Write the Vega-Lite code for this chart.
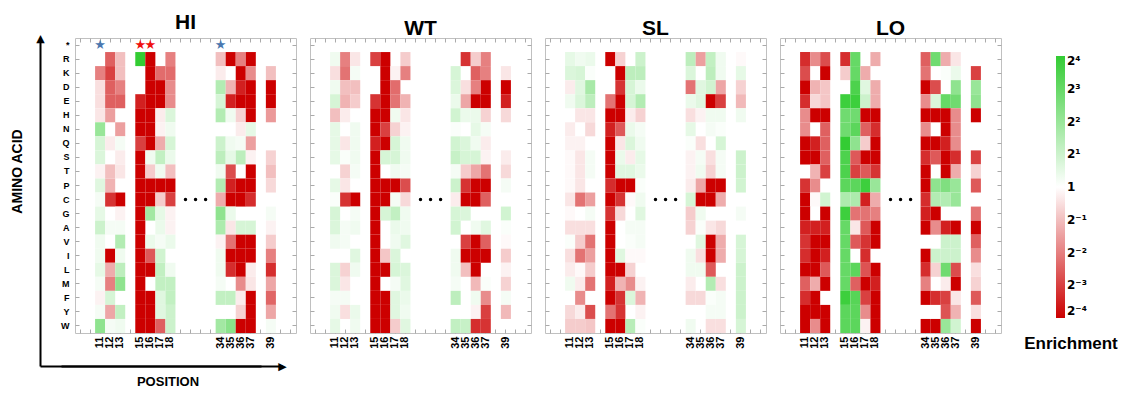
{
"$schema": "https://vega.github.io/schema/vega-lite/v6.json",
"background": "white",
"padding": {"left": 9, "top": 11, "right": 0, "bottom": 5},
"config": {
  "font": "Liberation Sans",
  "view": {"stroke": "#c0c0c0"},
  "axis": {"grid": false, "labelFont": "Liberation Sans", "titleFont": "Liberation Sans"},
  "title": {"fontSize": 21, "fontWeight": "bold", "offset": -1, "color": "black", "font": "Liberation Sans"},
  "legend": {"orient": "none", "legendX": 949, "legendY": 18, "direction": "vertical", "gradientLength": 262, "gradientThickness": 9, "labelFont": "DejaVu Sans", "labelFontSize": 12, "labelFontWeight": "bold", "labelColor": "black", "labelOffset": 8, "titleOrient": "bottom", "titleAnchor": "middle", "titleFontSize": 17, "titleFontWeight": "bold", "titleColor": "black", "titlePadding": 18, "padding": 0, "gradientStrokeWidth": 0}
},
"datasets": {
"dots": [{"r": "C", "c": "G1"}, {"r": "C", "c": "G2"}, {"r": "C", "c": "G3"}],
"blue": [{"r": "*", "c": "11"}, {"r": "*", "c": "34"}],
"red": [{"r": "*", "c": "15"}, {"r": "*", "c": "16"}],
"HI": [
{"r":"R","c":"12","v":-2.5},{"r":"R","c":"13","v":-1},{"r":"R","c":"15","v":4},{"r":"R","c":"16","v":-4},{"r":"R","c":"18","v":-2},{"r":"R","c":"34","v":-1},{"r":"R","c":"35","v":-4},{"r":"R","c":"36","v":-2},{"r":"R","c":"37","v":-4},
{"r":"K","c":"11","v":-2},{"r":"K","c":"12","v":-3},{"r":"K","c":"13","v":-1},{"r":"K","c":"16","v":-4},{"r":"K","c":"17","v":-2.3},{"r":"K","c":"18","v":-2.3},{"r":"K","c":"34","v":-0.3},{"r":"K","c":"36","v":-4},{"r":"K","c":"37","v":-1.8},{"r":"K","c":"39","v":-1},
{"r":"D","c":"11","v":-0.5},{"r":"D","c":"12","v":-2.5},{"r":"D","c":"13","v":-2},{"r":"D","c":"16","v":-4},{"r":"D","c":"17","v":-4},{"r":"D","c":"18","v":-1.8},{"r":"D","c":"34","v":1.5},{"r":"D","c":"35","v":-1.2},{"r":"D","c":"36","v":-3.5},{"r":"D","c":"37","v":-4},{"r":"D","c":"39","v":-4},
{"r":"E","c":"11","v":-0.5},{"r":"E","c":"12","v":-2.5},{"r":"E","c":"13","v":-2.5},{"r":"E","c":"15","v":-3.5},{"r":"E","c":"16","v":-4},{"r":"E","c":"17","v":-4},{"r":"E","c":"18","v":-1.8},{"r":"E","c":"34","v":0.8},{"r":"E","c":"35","v":-3.5},{"r":"E","c":"36","v":-4},{"r":"E","c":"37","v":-4},{"r":"E","c":"39","v":-4},
{"r":"H","c":"11","v":-0.4},{"r":"H","c":"12","v":-1.5},{"r":"H","c":"15","v":-4},{"r":"H","c":"16","v":-4},{"r":"H","c":"17","v":-0.3},{"r":"H","c":"18","v":0.7},{"r":"H","c":"34","v":1.5},{"r":"H","c":"35","v":0.3},{"r":"H","c":"36","v":-0.7},{"r":"H","c":"37","v":-4},{"r":"H","c":"39","v":-1.6},
{"r":"N","c":"11","v":2},{"r":"N","c":"13","v":-1.5},{"r":"N","c":"15","v":-4},{"r":"N","c":"16","v":-4},{"r":"N","c":"17","v":-0.2},{"r":"N","c":"18","v":0.3},{"r":"N","c":"36","v":-0.3},{"r":"N","c":"37","v":0.5},
{"r":"Q","c":"11","v":0.8},{"r":"Q","c":"12","v":-0.3},{"r":"Q","c":"13","v":0.2},{"r":"Q","c":"15","v":-3},{"r":"Q","c":"16","v":-4},{"r":"Q","c":"17","v":-1.3},{"r":"Q","c":"18","v":0.8},{"r":"Q","c":"34","v":1},{"r":"Q","c":"35","v":0.3},{"r":"Q","c":"36","v":0.2},{"r":"Q","c":"37","v":-1.5},
{"r":"S","c":"11","v":0.7},{"r":"S","c":"13","v":-0.3},{"r":"S","c":"15","v":-4},{"r":"S","c":"16","v":0.3},{"r":"S","c":"17","v":1.2},{"r":"S","c":"18","v":0.4},{"r":"S","c":"34","v":1.3},{"r":"S","c":"35","v":0.5},{"r":"S","c":"36","v":1.3},{"r":"S","c":"37","v":-0.2},{"r":"S","c":"39","v":-0.7},
{"r":"T","c":"11","v":-0.2},{"r":"T","c":"12","v":-1},{"r":"T","c":"13","v":-0.4},{"r":"T","c":"15","v":-4},{"r":"T","c":"16","v":-0.8},{"r":"T","c":"17","v":0.3},{"r":"T","c":"18","v":-1},{"r":"T","c":"34","v":0.3},{"r":"T","c":"35","v":-2.8},{"r":"T","c":"37","v":-4},{"r":"T","c":"39","v":-1},
{"r":"P","c":"11","v":0.6},{"r":"P","c":"12","v":-1.2},{"r":"P","c":"15","v":-4},{"r":"P","c":"16","v":-4},{"r":"P","c":"17","v":-4},{"r":"P","c":"18","v":-4},{"r":"P","c":"34","v":1.5},{"r":"P","c":"35","v":-3.5},{"r":"P","c":"36","v":-4},{"r":"P","c":"37","v":-4},{"r":"P","c":"39","v":-0.6},
{"r":"C","c":"11","v":0.2},{"r":"C","c":"12","v":-3.2},{"r":"C","c":"13","v":-4},{"r":"C","c":"15","v":-4},{"r":"C","c":"16","v":-4},{"r":"C","c":"17","v":-0.8},{"r":"C","c":"18","v":-3},{"r":"C","c":"34","v":-1.3},{"r":"C","c":"35","v":-4},{"r":"C","c":"36","v":-4},{"r":"C","c":"37","v":-3.3},
{"r":"G","c":"11","v":0.5},{"r":"G","c":"13","v":-0.2},{"r":"G","c":"15","v":-4},{"r":"G","c":"16","v":1.8},{"r":"G","c":"17","v":0.5},{"r":"G","c":"18","v":-0.2},{"r":"G","c":"34","v":2.2},{"r":"G","c":"35","v":0.4},{"r":"G","c":"39","v":0.2},
{"r":"A","c":"11","v":1},{"r":"A","c":"12","v":0.2},{"r":"A","c":"13","v":0.2},{"r":"A","c":"15","v":-4},{"r":"A","c":"17","v":0.4},{"r":"A","c":"18","v":-0.2},{"r":"A","c":"34","v":1.6},{"r":"A","c":"35","v":-0.4},{"r":"A","c":"36","v":0.8},{"r":"A","c":"37","v":0.8},{"r":"A","c":"39","v":-0.2},
{"r":"V","c":"11","v":0.3},{"r":"V","c":"13","v":1.5},{"r":"V","c":"15","v":-4},{"r":"V","c":"16","v":0.4},{"r":"V","c":"17","v":0.2},{"r":"V","c":"18","v":0.4},{"r":"V","c":"34","v":-0.2},{"r":"V","c":"35","v":-2.2},{"r":"V","c":"36","v":-4},{"r":"V","c":"37","v":-4},{"r":"V","c":"39","v":-0.8},
{"r":"I","c":"11","v":0.3},{"r":"I","c":"12","v":-4},{"r":"I","c":"13","v":0.3},{"r":"I","c":"15","v":-4},{"r":"I","c":"16","v":-2.6},{"r":"I","c":"17","v":0.9},{"r":"I","c":"34","v":0.3},{"r":"I","c":"35","v":-4},{"r":"I","c":"36","v":-4},{"r":"I","c":"37","v":-4},{"r":"I","c":"39","v":-2},
{"r":"L","c":"11","v":0.5},{"r":"L","c":"12","v":-1.3},{"r":"L","c":"13","v":1.3},{"r":"L","c":"15","v":-4},{"r":"L","c":"16","v":-4},{"r":"L","c":"17","v":1.2},{"r":"L","c":"18","v":0.3},{"r":"L","c":"34","v":0.3},{"r":"L","c":"35","v":-3.3},{"r":"L","c":"36","v":-4},{"r":"L","c":"37","v":-0.3},{"r":"L","c":"39","v":-3.3},
{"r":"M","c":"11","v":0.2},{"r":"M","c":"12","v":-2},{"r":"M","c":"13","v":2.2},{"r":"M","c":"15","v":-4},{"r":"M","c":"17","v":1.2},{"r":"M","c":"18","v":1.2},{"r":"M","c":"34","v":0.2},{"r":"M","c":"36","v":-1.8},{"r":"M","c":"37","v":-0.4},{"r":"M","c":"39","v":-1.4},
{"r":"F","c":"11","v":-0.2},{"r":"F","c":"12","v":0.8},{"r":"F","c":"15","v":-4},{"r":"F","c":"16","v":-4},{"r":"F","c":"17","v":0.6},{"r":"F","c":"18","v":1.2},{"r":"F","c":"34","v":1.2},{"r":"F","c":"35","v":1.2},{"r":"F","c":"36","v":-0.3},{"r":"F","c":"37","v":-4},{"r":"F","c":"39","v":-2.4},
{"r":"Y","c":"11","v":0.2},{"r":"Y","c":"12","v":-1.4},{"r":"Y","c":"13","v":1.2},{"r":"Y","c":"15","v":-4},{"r":"Y","c":"16","v":-4},{"r":"Y","c":"17","v":0.6},{"r":"Y","c":"18","v":1},{"r":"Y","c":"36","v":-0.7},{"r":"Y","c":"37","v":-4},{"r":"Y","c":"39","v":-1.4},
{"r":"W","c":"11","v":2.2},{"r":"W","c":"12","v":0.2},{"r":"W","c":"13","v":0.3},{"r":"W","c":"15","v":-4},{"r":"W","c":"16","v":-4},{"r":"W","c":"17","v":-2.5},{"r":"W","c":"18","v":1},{"r":"W","c":"34","v":1.8},{"r":"W","c":"35","v":2.3},{"r":"W","c":"36","v":-4},{"r":"W","c":"37","v":-4},{"r":"W","c":"39","v":0.2}
],
"WT": [
{"r":"R","c":"11","v":0.3},{"r":"R","c":"12","v":-2},{"r":"R","c":"13","v":-0.4},{"r":"R","c":"15","v":-3},{"r":"R","c":"16","v":-4},{"r":"R","c":"18","v":-0.8},{"r":"R","c":"35","v":-3.2},{"r":"R","c":"36","v":-0.8},{"r":"R","c":"37","v":-2},
{"r":"K","c":"11","v":-0.5},{"r":"K","c":"12","v":-2.2},{"r":"K","c":"13","v":0.2},{"r":"K","c":"16","v":-4},{"r":"K","c":"17","v":-0.2},{"r":"K","c":"18","v":-2},{"r":"K","c":"34","v":0.8},{"r":"K","c":"36","v":-2.5},{"r":"K","c":"37","v":-2},{"r":"K","c":"39","v":-0.4},
{"r":"D","c":"11","v":0.3},{"r":"D","c":"12","v":-1},{"r":"D","c":"13","v":-1},{"r":"D","c":"16","v":-4},{"r":"D","c":"17","v":-2.3},{"r":"D","c":"34","v":0.7},{"r":"D","c":"35","v":-0.5},{"r":"D","c":"36","v":-2},{"r":"D","c":"37","v":-4},{"r":"D","c":"39","v":-4},
{"r":"E","c":"11","v":0.8},{"r":"E","c":"12","v":-1.2},{"r":"E","c":"13","v":-0.8},{"r":"E","c":"15","v":-3.2},{"r":"E","c":"16","v":-4},{"r":"E","c":"17","v":-2.2},{"r":"E","c":"18","v":-1.2},{"r":"E","c":"34","v":0.4},{"r":"E","c":"35","v":-1.4},{"r":"E","c":"36","v":-4},{"r":"E","c":"37","v":-4},{"r":"E","c":"39","v":-3.5},
{"r":"H","c":"11","v":-1},{"r":"H","c":"12","v":-0.3},{"r":"H","c":"15","v":-4},{"r":"H","c":"16","v":-4},{"r":"H","c":"17","v":0.3},{"r":"H","c":"18","v":-0.4},{"r":"H","c":"34","v":0.9},{"r":"H","c":"35","v":0.4},{"r":"H","c":"36","v":0.4},{"r":"H","c":"37","v":-0.7},{"r":"H","c":"39","v":-0.6},
{"r":"N","c":"11","v":0.5},{"r":"N","c":"13","v":0.3},{"r":"N","c":"15","v":-4},{"r":"N","c":"16","v":-3},{"r":"N","c":"17","v":-0.7},{"r":"N","c":"18","v":-0.2},{"r":"N","c":"34","v":0.1},{"r":"N","c":"36","v":0.5},{"r":"N","c":"37","v":0.2},
{"r":"Q","c":"11","v":0.5},{"r":"Q","c":"12","v":-0.4},{"r":"Q","c":"13","v":0.3},{"r":"Q","c":"15","v":-3.5},{"r":"Q","c":"16","v":-4},{"r":"Q","c":"17","v":0.8},{"r":"Q","c":"18","v":0.3},{"r":"Q","c":"34","v":0.9},{"r":"Q","c":"35","v":0.7},{"r":"Q","c":"36","v":0.3},{"r":"Q","c":"37","v":-0.3},
{"r":"S","c":"11","v":0.5},{"r":"S","c":"12","v":0.1},{"r":"S","c":"13","v":0.3},{"r":"S","c":"15","v":-4},{"r":"S","c":"16","v":0.8},{"r":"S","c":"17","v":0.8},{"r":"S","c":"18","v":0.3},{"r":"S","c":"34","v":1.1},{"r":"S","c":"35","v":0.8},{"r":"S","c":"36","v":0.8},{"r":"S","c":"37","v":-0.2},{"r":"S","c":"39","v":-0.3},
{"r":"T","c":"12","v":-0.7},{"r":"T","c":"13","v":0.2},{"r":"T","c":"15","v":-4},{"r":"T","c":"17","v":0.3},{"r":"T","c":"18","v":0.2},{"r":"T","c":"34","v":0.2},{"r":"T","c":"35","v":-0.8},{"r":"T","c":"36","v":-1.4},{"r":"T","c":"37","v":-2.2},{"r":"T","c":"39","v":-0.6},
{"r":"P","c":"11","v":0.5},{"r":"P","c":"12","v":-0.4},{"r":"P","c":"15","v":-4},{"r":"P","c":"16","v":-4},{"r":"P","c":"17","v":-4},{"r":"P","c":"18","v":-2.8},{"r":"P","c":"34","v":1},{"r":"P","c":"35","v":-3.2},{"r":"P","c":"36","v":-4},{"r":"P","c":"37","v":-4},{"r":"P","c":"39","v":0.2},
{"r":"C","c":"11","v":0.1},{"r":"C","c":"12","v":-3.2},{"r":"C","c":"13","v":-4},{"r":"C","c":"15","v":-4},{"r":"C","c":"16","v":-4},{"r":"C","c":"17","v":0.2},{"r":"C","c":"18","v":-0.6},{"r":"C","c":"34","v":-0.3},{"r":"C","c":"35","v":-4},{"r":"C","c":"36","v":-4},{"r":"C","c":"37","v":-2.5},
{"r":"G","c":"11","v":0.8},{"r":"G","c":"13","v":0.2},{"r":"G","c":"15","v":-4},{"r":"G","c":"16","v":0.8},{"r":"G","c":"17","v":1.2},{"r":"G","c":"18","v":0.3},{"r":"G","c":"34","v":0.8},{"r":"G","c":"35","v":0.7},{"r":"G","c":"39","v":0.9},
{"r":"A","c":"11","v":0.7},{"r":"A","c":"12","v":0.2},{"r":"A","c":"13","v":0.3},{"r":"A","c":"15","v":-4},{"r":"A","c":"17","v":0.4},{"r":"A","c":"18","v":0.3},{"r":"A","c":"34","v":0.9},{"r":"A","c":"36","v":0.3},{"r":"A","c":"37","v":0.6},{"r":"A","c":"39","v":0.1},
{"r":"V","c":"11","v":0.3},{"r":"V","c":"12","v":0.2},{"r":"V","c":"15","v":-4},{"r":"V","c":"17","v":0.3},{"r":"V","c":"18","v":0.6},{"r":"V","c":"35","v":-3},{"r":"V","c":"36","v":-4},{"r":"V","c":"37","v":-2.5},{"r":"V","c":"39","v":-0.1},
{"r":"I","c":"13","v":0.6},{"r":"I","c":"15","v":-4},{"r":"I","c":"16","v":-0.9},{"r":"I","c":"17","v":0.7},{"r":"I","c":"34","v":0.3},{"r":"I","c":"35","v":-4},{"r":"I","c":"36","v":-4},{"r":"I","c":"37","v":-4},{"r":"I","c":"39","v":-0.8},
{"r":"L","c":"11","v":0.7},{"r":"L","c":"12","v":-0.7},{"r":"L","c":"13","v":0.3},{"r":"L","c":"15","v":-4},{"r":"L","c":"16","v":-4},{"r":"L","c":"17","v":0.8},{"r":"L","c":"18","v":0.7},{"r":"L","c":"34","v":0.3},{"r":"L","c":"35","v":-1},{"r":"L","c":"36","v":-4},{"r":"L","c":"39","v":-0.2},
{"r":"M","c":"11","v":0.7},{"r":"M","c":"12","v":-0.4},{"r":"M","c":"15","v":-4},{"r":"M","c":"17","v":0.2},{"r":"M","c":"18","v":0.6},{"r":"M","c":"34","v":0.2},{"r":"M","c":"36","v":-1.1},{"r":"M","c":"37","v":0.1},{"r":"M","c":"39","v":-0.7},
{"r":"F","c":"11","v":0.2},{"r":"F","c":"12","v":0.2},{"r":"F","c":"15","v":-4},{"r":"F","c":"16","v":-4},{"r":"F","c":"17","v":0.6},{"r":"F","c":"18","v":0.4},{"r":"F","c":"34","v":1.3},{"r":"F","c":"36","v":0.3},{"r":"F","c":"37","v":-1.8},{"r":"F","c":"39","v":0.2},
{"r":"Y","c":"11","v":0.3},{"r":"Y","c":"12","v":-0.5},{"r":"Y","c":"13","v":0.4},{"r":"Y","c":"15","v":-4},{"r":"Y","c":"16","v":-4},{"r":"Y","c":"17","v":0.6},{"r":"Y","c":"18","v":0.3},{"r":"Y","c":"36","v":-0.2},{"r":"Y","c":"37","v":-3},{"r":"Y","c":"39","v":-1.1},
{"r":"W","c":"11","v":0.5},{"r":"W","c":"13","v":0.3},{"r":"W","c":"15","v":-4},{"r":"W","c":"16","v":-4},{"r":"W","c":"17","v":-0.8},{"r":"W","c":"18","v":0.6},{"r":"W","c":"34","v":1.2},{"r":"W","c":"35","v":1.1},{"r":"W","c":"36","v":-3.3},{"r":"W","c":"37","v":-3.2}
],
"SL": [
{"r":"R","c":"11","v":0.5},{"r":"R","c":"12","v":0.3},{"r":"R","c":"13","v":0.4},{"r":"R","c":"15","v":-4},{"r":"R","c":"16","v":-0.7},{"r":"R","c":"18","v":1},{"r":"R","c":"34","v":1.3},{"r":"R","c":"35","v":-1.5},{"r":"R","c":"36","v":1.2},{"r":"R","c":"37","v":0.3},{"r":"R","c":"39","v":-0.1},
{"r":"K","c":"11","v":0.7},{"r":"K","c":"12","v":0.8},{"r":"K","c":"13","v":0.1},{"r":"K","c":"16","v":-4},{"r":"K","c":"17","v":1.3},{"r":"K","c":"18","v":1.3},{"r":"K","c":"34","v":0.7},{"r":"K","c":"36","v":1.3},{"r":"K","c":"37","v":0.3},{"r":"K","c":"39","v":0.5},
{"r":"D","c":"11","v":-0.3},{"r":"D","c":"12","v":0.6},{"r":"D","c":"13","v":1.7},{"r":"D","c":"16","v":-3.2},{"r":"D","c":"17","v":0.8},{"r":"D","c":"18","v":0.4},{"r":"D","c":"34","v":-2.2},{"r":"D","c":"35","v":0.6},{"r":"D","c":"36","v":0.9},{"r":"D","c":"37","v":-1.4},{"r":"D","c":"39","v":-0.7},
{"r":"E","c":"11","v":0.3},{"r":"E","c":"12","v":0.7},{"r":"E","c":"13","v":1.3},{"r":"E","c":"15","v":-2.2},{"r":"E","c":"16","v":-4},{"r":"E","c":"17","v":0.8},{"r":"E","c":"18","v":1.5},{"r":"E","c":"34","v":0.4},{"r":"E","c":"35","v":0.6},{"r":"E","c":"36","v":-4},{"r":"E","c":"37","v":-3},{"r":"E","c":"39","v":-1.1},
{"r":"H","c":"12","v":-0.4},{"r":"H","c":"13","v":-0.4},{"r":"H","c":"15","v":-4},{"r":"H","c":"16","v":-4},{"r":"H","c":"17","v":-0.3},{"r":"H","c":"18","v":-0.7},{"r":"H","c":"34","v":-0.5},{"r":"H","c":"35","v":-0.2},{"r":"H","c":"36","v":0.3},{"r":"H","c":"37","v":0.3},{"r":"H","c":"39","v":0.3},
{"r":"N","c":"11","v":-0.3},{"r":"N","c":"13","v":-0.6},{"r":"N","c":"15","v":-3.5},{"r":"N","c":"16","v":-2.6},{"r":"N","c":"17","v":0.4},{"r":"N","c":"18","v":0.2},{"r":"N","c":"34","v":0.5},{"r":"N","c":"36","v":0.2},{"r":"N","c":"37","v":0.1},
{"r":"Q","c":"11","v":-0.2},{"r":"Q","c":"12","v":-0.2},{"r":"Q","c":"15","v":-4},{"r":"Q","c":"16","v":-0.4},{"r":"Q","c":"17","v":0.7},{"r":"Q","c":"18","v":0.3},{"r":"Q","c":"34","v":0.1},{"r":"Q","c":"35","v":-0.5},{"r":"Q","c":"37","v":0.8},
{"r":"S","c":"11","v":-0.1},{"r":"S","c":"12","v":-0.4},{"r":"S","c":"13","v":0.2},{"r":"S","c":"15","v":-4},{"r":"S","c":"16","v":0.4},{"r":"S","c":"17","v":-0.3},{"r":"S","c":"18","v":0.5},{"r":"S","c":"34","v":-0.2},{"r":"S","c":"35","v":0.2},{"r":"S","c":"36","v":-0.5},{"r":"S","c":"37","v":0.2},{"r":"S","c":"39","v":1},
{"r":"T","c":"11","v":-0.1},{"r":"T","c":"12","v":-0.4},{"r":"T","c":"13","v":0.2},{"r":"T","c":"15","v":-4},{"r":"T","c":"16","v":0.6},{"r":"T","c":"17","v":0.6},{"r":"T","c":"18","v":0.4},{"r":"T","c":"34","v":-0.2},{"r":"T","c":"35","v":0.3},{"r":"T","c":"36","v":-0.7},{"r":"T","c":"37","v":0.2},{"r":"T","c":"39","v":1},
{"r":"P","c":"11","v":-0.1},{"r":"P","c":"12","v":-0.4},{"r":"P","c":"15","v":-3.3},{"r":"P","c":"16","v":-4},{"r":"P","c":"17","v":-4},{"r":"P","c":"18","v":0.1},{"r":"P","c":"34","v":-0.3},{"r":"P","c":"35","v":-1.4},{"r":"P","c":"36","v":-4},{"r":"P","c":"37","v":-4},{"r":"P","c":"39","v":0.9},
{"r":"C","c":"11","v":-0.4},{"r":"C","c":"12","v":-2.2},{"r":"C","c":"13","v":-1.5},{"r":"C","c":"15","v":-4},{"r":"C","c":"16","v":-3.2},{"r":"C","c":"17","v":-0.1},{"r":"C","c":"18","v":0.3},{"r":"C","c":"34","v":0.8},{"r":"C","c":"35","v":-4},{"r":"C","c":"36","v":-4},{"r":"C","c":"37","v":-1.3},
{"r":"G","c":"11","v":-0.1},{"r":"G","c":"13","v":0.2},{"r":"G","c":"15","v":-3.2},{"r":"G","c":"16","v":-0.6},{"r":"G","c":"18","v":0.6},{"r":"G","c":"34","v":-0.8},{"r":"G","c":"35","v":0.3},{"r":"G","c":"39","v":0.2},
{"r":"A","c":"11","v":-0.5},{"r":"A","c":"12","v":-0.5},{"r":"A","c":"13","v":-0.5},{"r":"A","c":"15","v":-4},{"r":"A","c":"17","v":0.2},{"r":"A","c":"18","v":0.2},{"r":"A","c":"34","v":-0.7},{"r":"A","c":"35","v":0.1},{"r":"A","c":"36","v":-0.4},{"r":"A","c":"37","v":-0.6},
{"r":"V","c":"11","v":0.1},{"r":"V","c":"12","v":-0.8},{"r":"V","c":"13","v":-2.2},{"r":"V","c":"15","v":-4},{"r":"V","c":"17","v":0.1},{"r":"V","c":"18","v":0.2},{"r":"V","c":"35","v":0.6},{"r":"V","c":"36","v":-4},{"r":"V","c":"37","v":-1.3},{"r":"V","c":"39","v":0.8},
{"r":"I","c":"11","v":-0.5},{"r":"I","c":"12","v":-2.2},{"r":"I","c":"13","v":-1.5},{"r":"I","c":"15","v":-4},{"r":"I","c":"16","v":0.6},{"r":"I","c":"17","v":-0.1},{"r":"I","c":"18","v":-0.1},{"r":"I","c":"34","v":0.3},{"r":"I","c":"35","v":-0.5},{"r":"I","c":"36","v":-4},{"r":"I","c":"37","v":-1.3},{"r":"I","c":"39","v":0.8},
{"r":"L","c":"11","v":-0.3},{"r":"L","c":"12","v":-0.1},{"r":"L","c":"13","v":-0.8},{"r":"L","c":"15","v":-4},{"r":"L","c":"16","v":-4},{"r":"L","c":"17","v":-0.7},{"r":"L","c":"34","v":0.3},{"r":"L","c":"35","v":0.3},{"r":"L","c":"36","v":-2.6},{"r":"L","c":"39","v":1},
{"r":"M","c":"11","v":0.3},{"r":"M","c":"12","v":-0.3},{"r":"M","c":"13","v":-2.2},{"r":"M","c":"15","v":-3.5},{"r":"M","c":"16","v":-1.2},{"r":"M","c":"17","v":-1.8},{"r":"M","c":"18","v":-0.2},{"r":"M","c":"34","v":-0.3},{"r":"M","c":"36","v":1.5},{"r":"M","c":"37","v":-0.5},{"r":"M","c":"39","v":1},
{"r":"F","c":"12","v":-1.8},{"r":"F","c":"15","v":-4},{"r":"F","c":"16","v":-3.2},{"r":"F","c":"17","v":0.7},{"r":"F","c":"18","v":-1.2},{"r":"F","c":"34","v":-0.6},{"r":"F","c":"35","v":-0.6},{"r":"F","c":"36","v":0.1},{"r":"F","c":"37","v":0.2},{"r":"F","c":"39","v":1},
{"r":"Y","c":"11","v":-0.6},{"r":"Y","c":"12","v":-0.3},{"r":"Y","c":"13","v":-2.8},{"r":"Y","c":"15","v":-2.2},{"r":"Y","c":"16","v":-3.2},{"r":"Y","c":"18","v":-0.2},{"r":"Y","c":"36","v":0.2},{"r":"Y","c":"37","v":0.2},{"r":"Y","c":"39","v":1},
{"r":"W","c":"11","v":-0.8},{"r":"W","c":"12","v":-0.8},{"r":"W","c":"13","v":-0.9},{"r":"W","c":"15","v":-4},{"r":"W","c":"16","v":-4},{"r":"W","c":"17","v":1.4},{"r":"W","c":"18","v":0.1},{"r":"W","c":"34","v":0.3},{"r":"W","c":"36","v":-0.5},{"r":"W","c":"37","v":-0.5},{"r":"W","c":"39","v":0.8}
],
"LO": [
{"r":"R","c":"11","v":-3.3},{"r":"R","c":"12","v":-1.8},{"r":"R","c":"13","v":-2.8},{"r":"R","c":"15","v":-3.3},{"r":"R","c":"16","v":3},{"r":"R","c":"18","v":-1.3},{"r":"R","c":"34","v":-2.5},{"r":"R","c":"35","v":2.8},{"r":"R","c":"36","v":-1.3},{"r":"R","c":"37","v":-0.4},
{"r":"K","c":"11","v":-2.8},{"r":"K","c":"13","v":-4},{"r":"K","c":"15","v":-0.8},{"r":"K","c":"16","v":3},{"r":"K","c":"17","v":-1.3},{"r":"K","c":"34","v":-2.2},{"r":"K","c":"36","v":0.1},{"r":"K","c":"37","v":0.4},{"r":"K","c":"39","v":-3},
{"r":"D","c":"11","v":-4},{"r":"D","c":"12","v":-1.2},{"r":"D","c":"13","v":-0.9},{"r":"D","c":"16","v":3.5},{"r":"D","c":"17","v":0.6},{"r":"D","c":"18","v":-1.3},{"r":"D","c":"34","v":-4},{"r":"D","c":"35","v":-2.8},{"r":"D","c":"37","v":2.2},{"r":"D","c":"39","v":2},
{"r":"E","c":"11","v":-3.3},{"r":"E","c":"12","v":-0.6},{"r":"E","c":"13","v":-0.9},{"r":"E","c":"15","v":3.8},{"r":"E","c":"16","v":3.8},{"r":"E","c":"17","v":1},{"r":"E","c":"18","v":-1.3},{"r":"E","c":"34","v":-1.8},{"r":"E","c":"35","v":0.7},{"r":"E","c":"36","v":3},{"r":"E","c":"37","v":2.8},{"r":"E","c":"39","v":2.2},
{"r":"H","c":"11","v":-1.8},{"r":"H","c":"12","v":-4},{"r":"H","c":"13","v":-4},{"r":"H","c":"15","v":2.8},{"r":"H","c":"16","v":2.8},{"r":"H","c":"17","v":-4},{"r":"H","c":"18","v":-4},{"r":"H","c":"34","v":-4},{"r":"H","c":"35","v":-4},{"r":"H","c":"36","v":-4},{"r":"H","c":"37","v":-1.8},{"r":"H","c":"39","v":-4},
{"r":"N","c":"11","v":-1.8},{"r":"N","c":"13","v":-2.5},{"r":"N","c":"15","v":2.8},{"r":"N","c":"16","v":3.2},{"r":"N","c":"17","v":-2.5},{"r":"N","c":"18","v":-3.3},{"r":"N","c":"34","v":-1.8},{"r":"N","c":"36","v":-4},{"r":"N","c":"37","v":-1.8},
{"r":"Q","c":"11","v":-4},{"r":"Q","c":"12","v":-3.5},{"r":"Q","c":"13","v":-2.5},{"r":"Q","c":"15","v":4},{"r":"Q","c":"16","v":2.2},{"r":"Q","c":"17","v":-0.8},{"r":"Q","c":"18","v":-4},{"r":"Q","c":"34","v":-4},{"r":"Q","c":"35","v":-4},{"r":"Q","c":"36","v":-3.5},{"r":"Q","c":"37","v":-1.8},
{"r":"S","c":"11","v":-4},{"r":"S","c":"12","v":-4},{"r":"S","c":"13","v":-2.5},{"r":"S","c":"15","v":3.5},{"r":"S","c":"16","v":-2.6},{"r":"S","c":"17","v":-4},{"r":"S","c":"18","v":-4},{"r":"S","c":"34","v":-3.3},{"r":"S","c":"35","v":-2.6},{"r":"S","c":"36","v":-4},{"r":"S","c":"37","v":-3.3},{"r":"S","c":"39","v":-3},
{"r":"T","c":"12","v":-1.2},{"r":"T","c":"13","v":-3},{"r":"T","c":"15","v":3.5},{"r":"T","c":"16","v":-3},{"r":"T","c":"17","v":-2.6},{"r":"T","c":"18","v":-3.2},{"r":"T","c":"34","v":-4},{"r":"T","c":"36","v":-4},{"r":"T","c":"37","v":-1.3},{"r":"T","c":"39","v":-0.7},
{"r":"P","c":"11","v":-3.2},{"r":"P","c":"12","v":-1.8},{"r":"P","c":"15","v":3.2},{"r":"P","c":"16","v":3.2},{"r":"P","c":"17","v":3.8},{"r":"P","c":"18","v":2},{"r":"P","c":"34","v":-4},{"r":"P","c":"35","v":2.2},{"r":"P","c":"36","v":2.5},{"r":"P","c":"37","v":2},{"r":"P","c":"39","v":-2.6},
{"r":"C","c":"11","v":-4},{"r":"C","c":"12","v":-0.1},{"r":"C","c":"13","v":0.9},{"r":"C","c":"15","v":1.6},{"r":"C","c":"16","v":1.6},{"r":"C","c":"17","v":-3.5},{"r":"C","c":"18","v":-1.3},{"r":"C","c":"34","v":-3.3},{"r":"C","c":"35","v":1.5},{"r":"C","c":"36","v":1.5},{"r":"C","c":"37","v":2},
{"r":"G","c":"11","v":-4},{"r":"G","c":"13","v":-4},{"r":"G","c":"15","v":3.8},{"r":"G","c":"16","v":-2.2},{"r":"G","c":"17","v":-2.2},{"r":"G","c":"18","v":-2},{"r":"G","c":"34","v":-3.5},{"r":"G","c":"35","v":-4},{"r":"G","c":"39","v":-2.2},
{"r":"A","c":"11","v":-3.5},{"r":"A","c":"12","v":-3.5},{"r":"A","c":"13","v":-3.5},{"r":"A","c":"15","v":3},{"r":"A","c":"16","v":-0.4},{"r":"A","c":"17","v":-2.6},{"r":"A","c":"18","v":-4},{"r":"A","c":"34","v":-4},{"r":"A","c":"35","v":-1.8},{"r":"A","c":"36","v":-3.5},{"r":"A","c":"37","v":-4},{"r":"A","c":"39","v":-4},
{"r":"V","c":"11","v":-3.2},{"r":"V","c":"12","v":-4},{"r":"V","c":"13","v":-4},{"r":"V","c":"15","v":3},{"r":"V","c":"16","v":-2.6},{"r":"V","c":"17","v":-3.2},{"r":"V","c":"18","v":-4},{"r":"V","c":"36","v":1},{"r":"V","c":"37","v":1},{"r":"V","c":"39","v":-2.5},
{"r":"I","c":"11","v":-3.3},{"r":"I","c":"12","v":-4},{"r":"I","c":"13","v":-3.5},{"r":"I","c":"15","v":3},{"r":"I","c":"17","v":-3.3},{"r":"I","c":"34","v":-4},{"r":"I","c":"35","v":1},{"r":"I","c":"36","v":1},{"r":"I","c":"37","v":1},{"r":"I","c":"39","v":-1.8},
{"r":"L","c":"11","v":-4},{"r":"L","c":"12","v":-4},{"r":"L","c":"13","v":-2.6},{"r":"L","c":"15","v":3},{"r":"L","c":"16","v":3.2},{"r":"L","c":"17","v":-2.7},{"r":"L","c":"18","v":-4},{"r":"L","c":"34","v":-3.3},{"r":"L","c":"35","v":-0.7},{"r":"L","c":"36","v":2.8},{"r":"L","c":"37","v":-2.8},{"r":"L","c":"39","v":-0.5},
{"r":"M","c":"11","v":-2.5},{"r":"M","c":"12","v":-1.3},{"r":"M","c":"13","v":-4},{"r":"M","c":"15","v":3},{"r":"M","c":"16","v":-2.5},{"r":"M","c":"17","v":-4},{"r":"M","c":"18","v":-3.5},{"r":"M","c":"34","v":-2},{"r":"M","c":"36","v":-0.3},{"r":"M","c":"37","v":-4},{"r":"M","c":"39","v":-0.7},
{"r":"F","c":"11","v":-3.3},{"r":"F","c":"12","v":-4},{"r":"F","c":"15","v":3.8},{"r":"F","c":"16","v":3.3},{"r":"F","c":"17","v":-3},{"r":"F","c":"18","v":-4},{"r":"F","c":"34","v":-4},{"r":"F","c":"35","v":-3.3},{"r":"F","c":"36","v":-3},{"r":"F","c":"37","v":-0.4},{"r":"F","c":"39","v":-2.6},
{"r":"Y","c":"11","v":-4},{"r":"Y","c":"12","v":-4},{"r":"Y","c":"13","v":-4},{"r":"Y","c":"15","v":3.2},{"r":"Y","c":"16","v":3.2},{"r":"Y","c":"17","v":-1.8},{"r":"Y","c":"18","v":-4},{"r":"Y","c":"36","v":-2.7},{"r":"Y","c":"37","v":-1.2},{"r":"Y","c":"39","v":-0.5},
{"r":"W","c":"11","v":-4},{"r":"W","c":"12","v":-1.8},{"r":"W","c":"13","v":-4},{"r":"W","c":"15","v":3.2},{"r":"W","c":"16","v":3.2},{"r":"W","c":"17","v":-0.2},{"r":"W","c":"18","v":-4},{"r":"W","c":"34","v":-4},{"r":"W","c":"35","v":-4},{"r":"W","c":"36","v":2},{"r":"W","c":"37","v":0.9},{"r":"W","c":"39","v":-4}
]
},
"spacing": 11,
"hconcat": [
{
 "title": "HI", "width": 221, "height": 295,
 "resolve": {"scale": {"x": "independent", "y": "independent"}, "axis": {"x": "independent", "y": "independent"}},
 "layer": [
  {"data": {"name": "HI"}, "mark": {"type": "rect"}, "encoding": {
    "x": {"field": "c", "type": "nominal", "scale": {"type": "band", "domain": ["L1","L2","11","12","13","14","15","16","17","18","G1","G2","G3","G4","34","35","36","37","38","39","R1","R2"], "paddingInner": 0, "paddingOuter": 0}, "axis": {"orient": "bottom", "domain": false, "ticks": false, "labelAngle": -90, "labelFontSize": 11, "labelFontWeight": "bold", "labelColor": "black", "labelPadding": 3, "title": null, "labelExpr": "(isNaN(toNumber(datum.value)) || datum.value == '14' || datum.value == '38') ? '' : datum.value"}},
    "y": {"field": "r", "type": "nominal", "scale": {"type": "band", "domain": ["*","R","K","D","E","H","N","Q","S","T","P","C","G","A","V","I","L","M","F","Y","W"], "paddingInner": 0, "paddingOuter": 0}, "axis": {"orient": "left", "domain": false, "ticks": false, "labelFontSize": 9, "labelFontWeight": "bold", "labelColor": "black", "labelPadding": 6, "title": null}},
    "color": {"field": "v", "type": "quantitative", "scale": {"domain": [-4, 0, 4], "range": ["#cc0000", "#ffffff", "#33cc33"], "interpolate": "rgb"}, "legend": {"title": "Enrichment", "values": [-4, -3, -2, -1, 0, 1, 2, 3, 4], "labelExpr": "datum.value == 0 ? '1' : datum.value == 1 ? '2¹' : datum.value == 2 ? '2²' : datum.value == 3 ? '2³' : datum.value == 4 ? '2⁴' : datum.value == -1 ? '2⁻¹' : datum.value == -2 ? '2⁻²' : datum.value == -3 ? '2⁻³' : '2⁻⁴'"}}
  }},
  {"data": {"name": "dots"}, "mark": {"type": "circle", "opacity": 0}, "encoding": {
    "x": {"field": "c", "type": "nominal", "scale": {"type": "band", "domain": ["L1","L2","11","12","13","14","15","16","17","18","G1","G2","G3","G4","34","35","36","37","38","39","R1","R2"], "paddingInner": 0, "paddingOuter": 0}, "axis": {"orient": "bottom", "domain": false, "labels": false, "tickSize": -4, "tickColor": "#aaaaaa", "title": null}},
    "y": {"field": "r", "type": "nominal", "scale": {"type": "band", "domain": ["*","R","K","D","E","H","N","Q","S","T","P","C","G","A","V","I","L","M","F","Y","W"], "paddingInner": 0, "paddingOuter": 0}, "axis": {"orient": "left", "domain": false, "labels": false, "tickSize": -4, "tickColor": "#aaaaaa", "title": null}}
  }},
  {"data": {"name": "dots"}, "mark": {"type": "circle", "opacity": 0}, "encoding": {
    "x": {"field": "c", "type": "nominal", "scale": {"type": "band", "domain": ["L1","L2","11","12","13","14","15","16","17","18","G1","G2","G3","G4","34","35","36","37","38","39","R1","R2"], "paddingInner": 0, "paddingOuter": 0}, "axis": {"orient": "top", "domain": false, "labels": false, "tickSize": -4, "tickColor": "#aaaaaa", "title": null}},
    "y": {"field": "r", "type": "nominal", "scale": {"type": "band", "domain": ["*","R","K","D","E","H","N","Q","S","T","P","C","G","A","V","I","L","M","F","Y","W"], "paddingInner": 0, "paddingOuter": 0}, "axis": {"orient": "right", "domain": false, "labels": false, "tickSize": -4, "tickColor": "#aaaaaa", "title": null}}
  }},
  {"data": {"name": "dots"}, "mark": {"type": "circle", "color": "black", "opacity": 1, "size": 12}, "encoding": {
    "x": {"field": "c", "type": "nominal", "bandPosition": 1, "scale": {"type": "band", "domain": ["L1","L2","11","12","13","14","15","16","17","18","G1","G2","G3","G4","34","35","36","37","38","39","R1","R2"], "paddingInner": 0, "paddingOuter": 0}, "axis": null},
    "y": {"field": "r", "type": "nominal", "scale": {"type": "band", "domain": ["*","R","K","D","E","H","N","Q","S","T","P","C","G","A","V","I","L","M","F","Y","W"], "paddingInner": 0, "paddingOuter": 0}, "axis": null}
  }},
  {"data": {"name": "blue"}, "mark": {"type": "text", "text": "★", "font": "DejaVu Sans", "fontSize": 13, "color": "#4a78b0", "baseline": "middle", "align": "center"}, "encoding": {
    "x": {"field": "c", "type": "nominal", "scale": {"type": "band", "domain": ["L1","L2","11","12","13","14","15","16","17","18","G1","G2","G3","G4","34","35","36","37","38","39","R1","R2"], "paddingInner": 0, "paddingOuter": 0}, "axis": null},
    "y": {"field": "r", "type": "nominal", "scale": {"type": "band", "domain": ["*","R","K","D","E","H","N","Q","S","T","P","C","G","A","V","I","L","M","F","Y","W"], "paddingInner": 0, "paddingOuter": 0}, "axis": null}
  }},
  {"data": {"name": "red"}, "mark": {"type": "text", "text": "★", "font": "DejaVu Sans", "fontSize": 13, "color": "#f01010", "baseline": "middle", "align": "center"}, "encoding": {
    "x": {"field": "c", "type": "nominal", "scale": {"type": "band", "domain": ["L1","L2","11","12","13","14","15","16","17","18","G1","G2","G3","G4","34","35","36","37","38","39","R1","R2"], "paddingInner": 0, "paddingOuter": 0}, "axis": null},
    "y": {"field": "r", "type": "nominal", "scale": {"type": "band", "domain": ["*","R","K","D","E","H","N","Q","S","T","P","C","G","A","V","I","L","M","F","Y","W"], "paddingInner": 0, "paddingOuter": 0}, "axis": null}
  }},
  {"data": {"values": []}, "mark": {"type": "point", "opacity": 0}, "encoding": {
    "x": {"field": "a", "type": "quantitative", "scale": {"domain": [0, 1], "range": [-35, 186], "nice": false, "zero": false}, "axis": {"orient": "bottom", "offset": 33, "domain": true, "domainColor": "black", "domainWidth": 2, "ticks": false, "labels": false, "grid": false, "title": null}},
    "y": {"field": "b", "type": "quantitative", "scale": {"domain": [0, 1], "range": [328, 0], "nice": false, "zero": false}, "axis": {"orient": "left", "offset": 35, "domain": true, "domainColor": "black", "domainWidth": 2, "ticks": false, "labels": false, "grid": false, "title": "AMINO ACID", "titleFontSize": 14, "titleFontWeight": "bold", "titleColor": "black", "titlePadding": 16, "titleY": 133}}
  }},
  {"data": {"values": []}, "mark": {"type": "point", "opacity": 0}, "encoding": {
    "x": {"field": "a", "type": "quantitative", "scale": {"domain": [0, 1], "range": [-14, 207], "nice": false, "zero": false}, "axis": {"orient": "bottom", "offset": 33, "domain": true, "domainColor": "black", "domainWidth": 2, "ticks": false, "labels": false, "grid": false, "title": "▶", "titleFont": "DejaVu Sans", "titleAnchor": "end", "titleAlign": "center", "titleBaseline": "middle", "titlePadding": 0, "titleFontSize": 11, "titleColor": "black"}},
    "y": {"field": "b", "type": "quantitative", "scale": {"domain": [0, 1], "range": [328, 0], "nice": false, "zero": false}, "axis": {"orient": "left", "offset": 35, "domain": false, "ticks": false, "labels": false, "grid": false, "title": "▲", "titleFont": "DejaVu Sans", "titleAnchor": "end", "titleAngle": 0, "titleAlign": "center", "titleBaseline": "middle", "titlePadding": 0, "titleFontSize": 11, "titleColor": "black"}}
  }},
  {"data": {"values": []}, "mark": {"type": "point", "opacity": 0}, "encoding": {
    "x": {"field": "a", "type": "quantitative", "scale": {"domain": [0, 1], "range": [-18, 203], "nice": false, "zero": false}, "axis": {"orient": "bottom", "offset": 33, "domain": false, "ticks": false, "labels": false, "grid": false, "title": "POSITION", "titleFontSize": 13, "titleFontWeight": "bold", "titleColor": "black", "titlePadding": 9}}
  }}
 ]
},
{
 "title": "WT", "width": 221, "height": 295,
 "resolve": {"axis": {"x": "independent", "y": "independent"}},
 "layer": [
  {"data": {"name": "WT"}, "mark": {"type": "rect"}, "encoding": {
    "x": {"field": "c", "type": "nominal", "scale": {"type": "band", "domain": ["L1","L2","11","12","13","14","15","16","17","18","G1","G2","G3","G4","34","35","36","37","38","39","R1","R2"], "paddingInner": 0, "paddingOuter": 0}, "axis": {"orient": "bottom", "domain": false, "ticks": false, "labelAngle": -90, "labelFontSize": 11, "labelFontWeight": "bold", "labelColor": "black", "labelPadding": 3, "title": null, "labelExpr": "(isNaN(toNumber(datum.value)) || datum.value == '14' || datum.value == '38') ? '' : datum.value"}},
    "y": {"field": "r", "type": "nominal", "scale": {"type": "band", "domain": ["*","R","K","D","E","H","N","Q","S","T","P","C","G","A","V","I","L","M","F","Y","W"], "paddingInner": 0, "paddingOuter": 0}, "axis": null},
    "color": {"field": "v", "type": "quantitative", "scale": {"domain": [-4, 0, 4], "range": ["#cc0000", "#ffffff", "#33cc33"], "interpolate": "rgb"}}
  }},
  {"data": {"name": "dots"}, "mark": {"type": "circle", "opacity": 0}, "encoding": {
    "x": {"field": "c", "type": "nominal", "scale": {"type": "band", "domain": ["L1","L2","11","12","13","14","15","16","17","18","G1","G2","G3","G4","34","35","36","37","38","39","R1","R2"], "paddingInner": 0, "paddingOuter": 0}, "axis": {"orient": "bottom", "domain": false, "labels": false, "tickSize": -4, "tickColor": "#aaaaaa", "title": null}},
    "y": {"field": "r", "type": "nominal", "scale": {"type": "band", "domain": ["*","R","K","D","E","H","N","Q","S","T","P","C","G","A","V","I","L","M","F","Y","W"], "paddingInner": 0, "paddingOuter": 0}, "axis": {"orient": "left", "domain": false, "labels": false, "tickSize": -4, "tickColor": "#aaaaaa", "title": null}}
  }},
  {"data": {"name": "dots"}, "mark": {"type": "circle", "opacity": 0}, "encoding": {
    "x": {"field": "c", "type": "nominal", "scale": {"type": "band", "domain": ["L1","L2","11","12","13","14","15","16","17","18","G1","G2","G3","G4","34","35","36","37","38","39","R1","R2"], "paddingInner": 0, "paddingOuter": 0}, "axis": {"orient": "top", "domain": false, "labels": false, "tickSize": -4, "tickColor": "#aaaaaa", "title": null}},
    "y": {"field": "r", "type": "nominal", "scale": {"type": "band", "domain": ["*","R","K","D","E","H","N","Q","S","T","P","C","G","A","V","I","L","M","F","Y","W"], "paddingInner": 0, "paddingOuter": 0}, "axis": {"orient": "right", "domain": false, "labels": false, "tickSize": -4, "tickColor": "#aaaaaa", "title": null}}
  }},
  {"data": {"name": "dots"}, "mark": {"type": "circle", "color": "black", "opacity": 1, "size": 12}, "encoding": {
    "x": {"field": "c", "type": "nominal", "bandPosition": 1, "scale": {"type": "band", "domain": ["L1","L2","11","12","13","14","15","16","17","18","G1","G2","G3","G4","34","35","36","37","38","39","R1","R2"], "paddingInner": 0, "paddingOuter": 0}, "axis": null},
    "y": {"field": "r", "type": "nominal", "scale": {"type": "band", "domain": ["*","R","K","D","E","H","N","Q","S","T","P","C","G","A","V","I","L","M","F","Y","W"], "paddingInner": 0, "paddingOuter": 0}, "axis": null}
  }}
 ]
},
{
 "title": "SL", "width": 221, "height": 295,
 "resolve": {"axis": {"x": "independent", "y": "independent"}},
 "layer": [
  {"data": {"name": "SL"}, "mark": {"type": "rect"}, "encoding": {
    "x": {"field": "c", "type": "nominal", "scale": {"type": "band", "domain": ["L1","L2","11","12","13","14","15","16","17","18","G1","G2","G3","G4","34","35","36","37","38","39","R1","R2"], "paddingInner": 0, "paddingOuter": 0}, "axis": {"orient": "bottom", "domain": false, "ticks": false, "labelAngle": -90, "labelFontSize": 11, "labelFontWeight": "bold", "labelColor": "black", "labelPadding": 3, "title": null, "labelExpr": "(isNaN(toNumber(datum.value)) || datum.value == '14' || datum.value == '38') ? '' : datum.value"}},
    "y": {"field": "r", "type": "nominal", "scale": {"type": "band", "domain": ["*","R","K","D","E","H","N","Q","S","T","P","C","G","A","V","I","L","M","F","Y","W"], "paddingInner": 0, "paddingOuter": 0}, "axis": null},
    "color": {"field": "v", "type": "quantitative", "scale": {"domain": [-4, 0, 4], "range": ["#cc0000", "#ffffff", "#33cc33"], "interpolate": "rgb"}}
  }},
  {"data": {"name": "dots"}, "mark": {"type": "circle", "opacity": 0}, "encoding": {
    "x": {"field": "c", "type": "nominal", "scale": {"type": "band", "domain": ["L1","L2","11","12","13","14","15","16","17","18","G1","G2","G3","G4","34","35","36","37","38","39","R1","R2"], "paddingInner": 0, "paddingOuter": 0}, "axis": {"orient": "bottom", "domain": false, "labels": false, "tickSize": -4, "tickColor": "#aaaaaa", "title": null}},
    "y": {"field": "r", "type": "nominal", "scale": {"type": "band", "domain": ["*","R","K","D","E","H","N","Q","S","T","P","C","G","A","V","I","L","M","F","Y","W"], "paddingInner": 0, "paddingOuter": 0}, "axis": {"orient": "left", "domain": false, "labels": false, "tickSize": -4, "tickColor": "#aaaaaa", "title": null}}
  }},
  {"data": {"name": "dots"}, "mark": {"type": "circle", "opacity": 0}, "encoding": {
    "x": {"field": "c", "type": "nominal", "scale": {"type": "band", "domain": ["L1","L2","11","12","13","14","15","16","17","18","G1","G2","G3","G4","34","35","36","37","38","39","R1","R2"], "paddingInner": 0, "paddingOuter": 0}, "axis": {"orient": "top", "domain": false, "labels": false, "tickSize": -4, "tickColor": "#aaaaaa", "title": null}},
    "y": {"field": "r", "type": "nominal", "scale": {"type": "band", "domain": ["*","R","K","D","E","H","N","Q","S","T","P","C","G","A","V","I","L","M","F","Y","W"], "paddingInner": 0, "paddingOuter": 0}, "axis": {"orient": "right", "domain": false, "labels": false, "tickSize": -4, "tickColor": "#aaaaaa", "title": null}}
  }},
  {"data": {"name": "dots"}, "mark": {"type": "circle", "color": "black", "opacity": 1, "size": 12}, "encoding": {
    "x": {"field": "c", "type": "nominal", "bandPosition": 1, "scale": {"type": "band", "domain": ["L1","L2","11","12","13","14","15","16","17","18","G1","G2","G3","G4","34","35","36","37","38","39","R1","R2"], "paddingInner": 0, "paddingOuter": 0}, "axis": null},
    "y": {"field": "r", "type": "nominal", "scale": {"type": "band", "domain": ["*","R","K","D","E","H","N","Q","S","T","P","C","G","A","V","I","L","M","F","Y","W"], "paddingInner": 0, "paddingOuter": 0}, "axis": null}
  }}
 ]
},
{
 "title": "LO", "width": 221, "height": 295,
 "resolve": {"axis": {"x": "independent", "y": "independent"}},
 "layer": [
  {"data": {"name": "LO"}, "mark": {"type": "rect"}, "encoding": {
    "x": {"field": "c", "type": "nominal", "scale": {"type": "band", "domain": ["L1","L2","11","12","13","14","15","16","17","18","G1","G2","G3","G4","34","35","36","37","38","39","R1","R2"], "paddingInner": 0, "paddingOuter": 0}, "axis": {"orient": "bottom", "domain": false, "ticks": false, "labelAngle": -90, "labelFontSize": 11, "labelFontWeight": "bold", "labelColor": "black", "labelPadding": 3, "title": null, "labelExpr": "(isNaN(toNumber(datum.value)) || datum.value == '14' || datum.value == '38') ? '' : datum.value"}},
    "y": {"field": "r", "type": "nominal", "scale": {"type": "band", "domain": ["*","R","K","D","E","H","N","Q","S","T","P","C","G","A","V","I","L","M","F","Y","W"], "paddingInner": 0, "paddingOuter": 0}, "axis": null},
    "color": {"field": "v", "type": "quantitative", "scale": {"domain": [-4, 0, 4], "range": ["#cc0000", "#ffffff", "#33cc33"], "interpolate": "rgb"}}
  }},
  {"data": {"name": "dots"}, "mark": {"type": "circle", "opacity": 0}, "encoding": {
    "x": {"field": "c", "type": "nominal", "scale": {"type": "band", "domain": ["L1","L2","11","12","13","14","15","16","17","18","G1","G2","G3","G4","34","35","36","37","38","39","R1","R2"], "paddingInner": 0, "paddingOuter": 0}, "axis": {"orient": "bottom", "domain": false, "labels": false, "tickSize": -4, "tickColor": "#aaaaaa", "title": null}},
    "y": {"field": "r", "type": "nominal", "scale": {"type": "band", "domain": ["*","R","K","D","E","H","N","Q","S","T","P","C","G","A","V","I","L","M","F","Y","W"], "paddingInner": 0, "paddingOuter": 0}, "axis": {"orient": "left", "domain": false, "labels": false, "tickSize": -4, "tickColor": "#aaaaaa", "title": null}}
  }},
  {"data": {"name": "dots"}, "mark": {"type": "circle", "opacity": 0}, "encoding": {
    "x": {"field": "c", "type": "nominal", "scale": {"type": "band", "domain": ["L1","L2","11","12","13","14","15","16","17","18","G1","G2","G3","G4","34","35","36","37","38","39","R1","R2"], "paddingInner": 0, "paddingOuter": 0}, "axis": {"orient": "top", "domain": false, "labels": false, "tickSize": -4, "tickColor": "#aaaaaa", "title": null}},
    "y": {"field": "r", "type": "nominal", "scale": {"type": "band", "domain": ["*","R","K","D","E","H","N","Q","S","T","P","C","G","A","V","I","L","M","F","Y","W"], "paddingInner": 0, "paddingOuter": 0}, "axis": {"orient": "right", "domain": false, "labels": false, "tickSize": -4, "tickColor": "#aaaaaa", "title": null}}
  }},
  {"data": {"name": "dots"}, "mark": {"type": "circle", "color": "black", "opacity": 1, "size": 12}, "encoding": {
    "x": {"field": "c", "type": "nominal", "bandPosition": 1, "scale": {"type": "band", "domain": ["L1","L2","11","12","13","14","15","16","17","18","G1","G2","G3","G4","34","35","36","37","38","39","R1","R2"], "paddingInner": 0, "paddingOuter": 0}, "axis": null},
    "y": {"field": "r", "type": "nominal", "scale": {"type": "band", "domain": ["*","R","K","D","E","H","N","Q","S","T","P","C","G","A","V","I","L","M","F","Y","W"], "paddingInner": 0, "paddingOuter": 0}, "axis": null}
  }}
 ]
}
],
"resolve": {"scale": {"color": "shared"}}
}
